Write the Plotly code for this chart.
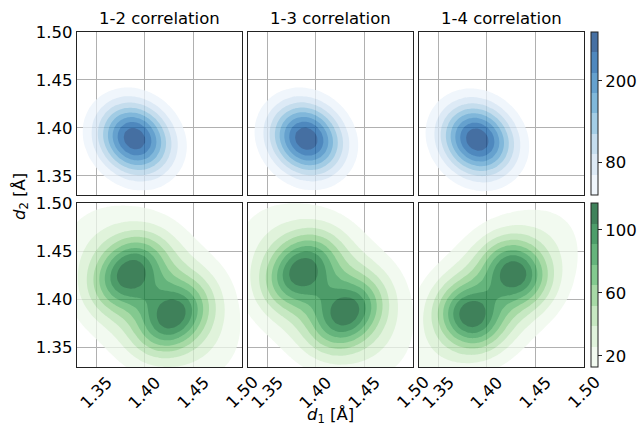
import re
import numpy as np
import plotly.graph_objects as go
from plotly.subplots import make_subplots
from plotly.colors import sample_colorscale

# ---------------- data ----------------
titles = ["1-2 correlation", "1-3 correlation", "1-4 correlation"]
tick_vals = [1.35, 1.40, 1.45, 1.50]
axis_range = [1.33, 1.50]

# Density bumps of each panel: amplitude, centre d1, centre d2,
# spread along main axis, spread across it, angle of main axis (deg)
blue_12 = [[250, 1.388, 1.390, 0.027, 0.024, -45],
           [25, 1.405, 1.372, 0.025, 0.025, 0]]
blue_13 = [[250, 1.389, 1.390, 0.027, 0.024, -45],
           [25, 1.402, 1.374, 0.025, 0.025, 0]]
blue_14 = [[250, 1.389, 1.389, 0.027, 0.024, -45],
           [25, 1.402, 1.373, 0.025, 0.025, 0]]

green_12 = [[63, 1.4065, 1.4055, 0.060, 0.040, -45],
            [62, 1.383, 1.429, 0.020, 0.028, -45],
            [62, 1.430, 1.382, 0.020, 0.028, -45]]
green_13 = [[63, 1.4085, 1.4080, 0.060, 0.040, -45],
            [62, 1.384, 1.431, 0.020, 0.028, -45],
            [62, 1.433, 1.385, 0.020, 0.028, -45]]
green_14 = [[63, 1.4060, 1.4055, 0.060, 0.034, 45],
            [62, 1.382, 1.382, 0.020, 0.024, 45],
            [62, 1.430, 1.429, 0.020, 0.024, 45]]

blue_level_start, blue_level_step = 32, 30
green_level_start, green_level_step = 13, 13
n_bands = 8
blue_ticks = [80, 200]
green_ticks = [20, 60, 100]

# ---------------- helpers ----------------
grid = np.linspace(1.325, 1.505, 37)
GX, GY = np.meshgrid(grid, grid)


def density(bumps):
    z = np.zeros_like(GX)
    for amp, mx, my, su, sv, ang in bumps:
        t = np.deg2rad(ang)
        dx, dy = GX - mx, GY - my
        u = dx * np.cos(t) + dy * np.sin(t)
        v = -dx * np.sin(t) + dy * np.cos(t)
        z += amp * np.exp(-0.5 * (u ** 2 / su ** 2 + v ** 2 / sv ** 2))
    return z


ALPHA = 0.75
FS = 16.5


def band_colors(name):
    fr = [(i + 0.5) / n_bands for i in range(n_bands)]
    raw = sample_colorscale(name, fr)
    comp = []
    for c in raw:
        r, g, b = [float(x) for x in re.findall(r"[\d.]+", c)[:3]]
        comp.append("rgb(%d,%d,%d)" % tuple(round(ALPHA * k + (1 - ALPHA) * 255) for k in (r, g, b)))
    return raw, comp


def contour_scale(raw):
    cs = [[0.0, "rgba(0,0,0,0)"]]
    for k in range(n_bands):
        cs.append([(k + 1) / n_bands, raw[k]])
    return cs


def bar_scale(comp):
    cs = []
    for k in range(n_bands):
        cs.append([k / n_bands, comp[k]])
        cs.append([(k + 1) / n_bands, comp[k]])
    return cs


blue_raw, blue_comp = band_colors("Blues")
green_raw, green_comp = band_colors("Greens")

fig = make_subplots(rows=2, cols=3)

rows = [
    ([blue_12, blue_13, blue_14], blue_raw, blue_comp, blue_level_start, blue_level_step, blue_ticks),
    ([green_12, green_13, green_14], green_raw, green_comp, green_level_start, green_level_step, green_ticks),
]

W = 507.0
H = 335.0
xdoms = [[0, 165 / W], [171 / W, 336 / W], [342 / W, 1]]
ydoms = [[172 / H, 1], [0, 164 / H]]

for r, (panels, raw, comp, L0, step, cticks) in enumerate(rows):
    for c, bumps in enumerate(panels):
        fig.add_trace(go.Contour(
            x=grid, y=grid, z=density(bumps),
            autocontour=False,
            contours=dict(start=L0, end=L0 + (n_bands - 1) * step, size=step,
                          coloring="fill", showlines=False),
            line=dict(width=0, smoothing=0.6),
            colorscale=contour_scale(raw),
            showscale=False, opacity=ALPHA, hoverinfo="skip",
        ), row=r + 1, col=c + 1)
    ydom = ydoms[r]
    fig.add_trace(go.Scatter(
        x=[None], y=[None], mode="markers",
        marker=dict(color=[L0], cmin=L0, cmax=L0 + n_bands * step,
                    colorscale=bar_scale(comp), showscale=True,
                    colorbar=dict(x=(591 - 77) / W, xanchor="left", xpad=0, ypad=0,
                                  y=(ydom[0] + ydom[1]) / 2, yanchor="middle",
                                  len=ydom[1] - ydom[0], lenmode="fraction",
                                  thickness=7, outlinewidth=1, outlinecolor="#222",
                                  tickvals=cticks, ticks="outside", ticklen=4,
                                  tickwidth=1, tickcolor="#222",
                                  tickfont=dict(size=FS, family="DejaVu Sans", color="black"))),
        showlegend=False, hoverinfo="skip",
    ), row=r + 1, col=3)

for r in range(2):
    for c in range(3):
        fig.update_xaxes(range=axis_range, domain=xdoms[c], tickvals=tick_vals,
                         tickformat=".2f", showgrid=True, gridcolor="#b0b0b0", gridwidth=1,
                         showline=True, mirror=True, linecolor="#222", linewidth=1.3,
                         ticks="", zeroline=False, showticklabels=False,
                         automargin=False, row=r + 1, col=c + 1)
        fig.update_yaxes(range=axis_range, domain=ydoms[r], tickvals=tick_vals,
                         tickformat=".2f", showgrid=True, gridcolor="#b0b0b0", gridwidth=1,
                         showline=True, mirror=True, linecolor="#222", linewidth=1.3,
                         ticks="", zeroline=False, showticklabels=(c == 0),
                         tickfont=dict(size=FS), automargin=False,
                         row=r + 1, col=c + 1)

annotations = []
for c in range(3):
    annotations.append(dict(text=titles[c], x=(xdoms[c][0] + xdoms[c][1]) / 2, y=1,
                            xref="paper", yref="paper", xanchor="center", yanchor="bottom",
                            yshift=2, showarrow=False, font=dict(size=FS)))
    # rotated tick labels of the bottom row, centred on their ticks
    for v in tick_vals:
        annotations.append(dict(text="%.2f" % v, x=v, xref="x%d" % (4 + c),
                                y=0, yref="y%d domain" % (4 + c),
                                xanchor="center", yanchor="top", yshift=-3,
                                textangle=-45, showarrow=False, font=dict(size=FS)))
annotations.append(dict(text="<i>d</i><sub>1</sub> [Å]", x=(330 - 77) / W, y=(367 - 415) / H,
                        xref="paper", yref="paper", xanchor="center", yanchor="middle",
                        showarrow=False, font=dict(size=FS)))
annotations.append(dict(text="<i>d</i><sub>2</sub> [Å]", x=(20 - 77) / W, y=(367 - 197) / H,
                        xref="paper", yref="paper", xanchor="center", yanchor="middle",
                        textangle=-90, showarrow=False, font=dict(size=FS)))

fig.update_layout(width=641, height=428,
                  margin=dict(l=77, r=57, t=32, b=61, autoexpand=False),
                  plot_bgcolor="white", paper_bgcolor="white", showlegend=False,
                  font=dict(family="DejaVu Sans", size=FS, color="black"),
                  annotations=annotations)

fig.write_html("out.html", config={"displayModeBar": False},
               post_script="document.body.style.margin='0px';document.body.style.overflow='hidden';")
